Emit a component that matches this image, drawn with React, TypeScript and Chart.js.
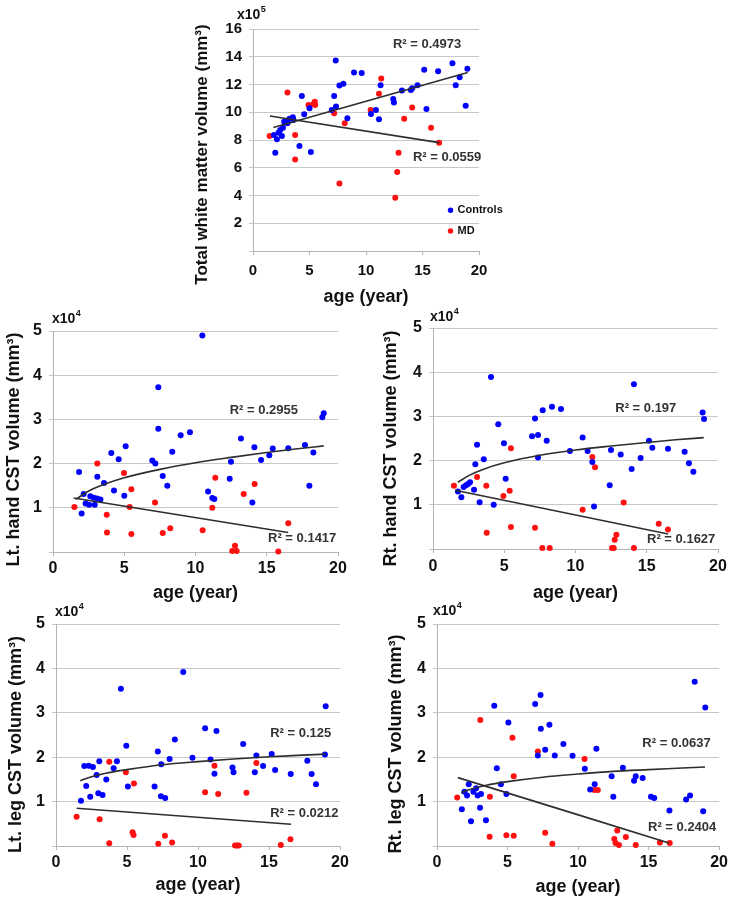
import React, { useEffect, useRef } from 'react';
import { Chart, registerables } from 'chart.js';

Chart.register(...registerables);

const FONT = '"Liberation Sans", Arial, Helvetica, sans-serif';
const BLUE = '#0000ff';
const RED = '#ff1010';
const LINE = '#2e2e2e';
const GRID = '#c8c8c8';
const AXIS = '#b4b4b4';
const TEXT = '#111111';
const R2_COLOR = '#333333';

// ---------- tick labels ----------
const AGE_TICKS = [0, 5, 10, 15, 20];
const WM_TICKS = [0, 2, 4, 6, 8, 10, 12, 14, 16];
const CST_TICKS = [0, 1, 2, 3, 4, 5];

// ---------- Total white matter (x10^5 mm3) ----------
const wmCtrlAge = [1.85, 1.97, 2.12, 2.26, 2.41, 2.56, 2.65, 2.76, 2.94, 3.05, 3.23, 3.53, 3.58, 4.11, 4.32, 4.53, 5.0, 5.12, 6.97, 7.18, 7.32, 7.35, 7.65, 8.0, 8.35, 8.94, 9.62, 10.44, 10.88, 11.15, 11.29, 12.41, 12.47, 13.18, 13.97, 14.09, 14.56, 15.15, 15.35, 16.38, 17.65, 17.94, 18.29, 18.82, 18.97];
const wmCtrlVol = [8.36, 7.08, 8.05, 8.53, 8.72, 8.29, 8.89, 9.32, 9.37, 9.2, 9.54, 9.64, 9.45, 7.57, 11.18, 9.86, 10.29, 7.13, 10.17, 11.18, 13.73, 10.41, 11.93, 12.05, 9.57, 12.87, 12.82, 9.88, 10.17, 9.49, 11.95, 10.96, 10.7, 11.57, 11.61, 11.73, 11.95, 13.06, 10.24, 12.96, 13.54, 11.95, 12.53, 10.46, 13.13];
const wmMdAge = [1.47, 3.05, 3.73, 3.73, 4.91, 5.35, 5.47, 5.5, 7.18, 7.65, 8.12, 10.41, 11.15, 11.35, 12.59, 12.76, 12.88, 13.38, 14.09, 15.76, 16.47];
const wmMdVol = [8.29, 11.42, 8.36, 6.6, 10.53, 10.6, 10.75, 10.53, 9.93, 4.87, 9.2, 10.17, 11.33, 12.43, 3.83, 5.69, 7.08, 9.54, 10.34, 8.89, 7.81];
const wmCtrlFitAge = [1.8, 19.0];
const wmCtrlFitVol = [8.9, 12.87];
const wmMdFitAge = [1.5, 16.47];
const wmMdFitVol = [9.73, 7.81];

// ---------- Lt. hand CST (x10^4 mm3) ----------
const lhCtrlAge = [1.83, 2.01, 2.15, 2.29, 2.53, 2.62, 2.86, 2.93, 3.09, 3.11, 3.33, 3.58, 4.09, 4.28, 4.61, 5.0, 5.1, 6.97, 7.18, 7.39, 7.39, 7.7, 8.02, 8.37, 8.96, 9.61, 10.48, 10.88, 11.18, 11.32, 12.4, 12.49, 13.19, 13.99, 14.13, 14.6, 15.18, 15.42, 16.51, 17.68, 17.99, 18.27, 18.9, 19.0];
const lhCtrlVol = [1.81, 0.87, 1.31, 1.1, 1.07, 1.26, 1.23, 1.07, 1.21, 1.7, 1.19, 1.56, 2.24, 1.39, 2.1, 1.27, 2.39, 2.07, 2.0, 3.73, 2.79, 1.72, 1.5, 2.27, 2.64, 2.71, 4.9, 1.37, 1.22, 1.2, 1.66, 2.04, 2.57, 1.12, 2.37, 2.08, 2.19, 2.34, 2.35, 2.42, 1.5, 2.25, 3.05, 3.14];
const lhMdAge = [1.5, 3.11, 3.77, 3.79, 4.98, 5.38, 5.5, 5.5, 7.16, 7.7, 8.23, 10.5, 11.18, 11.39, 12.58, 12.77, 12.89, 13.38, 14.15, 15.81, 16.51];
const lhMdVol = [1.02, 2.0, 0.84, 0.44, 1.79, 1.02, 1.42, 0.41, 1.12, 0.43, 0.54, 0.49, 1.0, 1.68, 0.02, 0.14, 0.02, 1.31, 1.54, 0.01, 0.65];
const lhCtrlFitAge = [1.6, 2.5, 3.5, 5, 7.5, 10, 12.5, 15, 17, 19];
const lhCtrlFitVol = [1.19, 1.38, 1.52, 1.68, 1.87, 2.02, 2.14, 2.25, 2.33, 2.4];
const lhMdFitAge = [1.45, 16.5];
const lhMdFitVol = [1.22, 0.44];

// ---------- Rt. hand CST (x10^4 mm3) ----------
const rhCtrlAge = [1.75, 1.99, 2.15, 2.32, 2.46, 2.6, 2.88, 2.97, 3.09, 3.27, 3.56, 4.07, 4.26, 4.58, 4.98, 5.1, 6.95, 7.16, 7.37, 7.37, 7.7, 7.98, 8.35, 8.98, 9.61, 10.5, 10.85, 11.18, 11.3, 12.4, 12.49, 13.17, 13.94, 14.1, 14.57, 15.16, 15.39, 16.49, 17.66, 17.96, 18.27, 18.92, 19.02];
const rhCtrlVol = [1.3, 1.17, 1.4, 1.44, 1.47, 1.51, 1.34, 1.92, 2.36, 1.06, 2.03, 3.89, 1.0, 2.82, 2.39, 1.59, 2.55, 2.95, 2.58, 2.07, 3.14, 2.45, 3.22, 3.17, 2.22, 2.52, 2.22, 1.97, 0.96, 1.44, 2.24, 2.14, 1.81, 3.73, 2.06, 2.45, 2.29, 2.27, 2.2, 1.94, 1.75, 3.09, 2.94];
const rhMdAge = [1.47, 3.09, 3.74, 3.77, 4.94, 5.38, 5.47, 5.47, 7.16, 7.67, 8.19, 10.5, 11.18, 11.37, 12.56, 12.68, 12.75, 12.87, 13.38, 14.1, 15.84, 16.49];
const rhMdVol = [1.43, 1.63, 1.43, 0.37, 1.2, 1.32, 2.28, 0.5, 0.48, 0.02, 0.02, 0.89, 2.08, 1.85, 0.02, 0.02, 0.21, 0.32, 1.05, 0.02, 0.57, 0.44];
const rhCtrlFitAge = [1.75, 2.5, 3.5, 5, 7.5, 10, 12.5, 15, 17, 19];
const rhCtrlFitVol = [1.51, 1.66, 1.8, 1.95, 2.12, 2.24, 2.33, 2.41, 2.47, 2.52];
const rhMdFitAge = [1.55, 16.5];
const rhMdFitVol = [1.33, 0.34];

// ---------- Lt. leg CST (x10^4 mm3) ----------
const llCtrlAge = [1.76, 1.99, 2.13, 2.3, 2.41, 2.6, 2.86, 2.98, 3.05, 3.28, 3.54, 4.06, 4.29, 4.57, 4.95, 5.06, 6.94, 7.17, 7.39, 7.41, 7.69, 8.0, 8.37, 8.96, 9.61, 10.5, 10.88, 11.16, 11.3, 12.43, 12.5, 13.18, 14.0, 14.11, 14.58, 15.19, 15.43, 16.53, 17.7, 18.0, 18.31, 18.94, 18.99];
const llCtrlVol = [1.02, 1.8, 1.35, 1.81, 1.11, 1.78, 1.6, 1.19, 1.91, 1.15, 1.5, 1.75, 1.91, 3.54, 2.26, 1.34, 1.34, 2.13, 1.12, 1.84, 1.08, 1.96, 2.4, 3.92, 1.99, 2.65, 1.95, 1.63, 2.59, 1.77, 1.66, 2.3, 1.66, 2.04, 1.8, 2.07, 1.71, 1.62, 1.92, 1.62, 1.39, 2.06, 3.15];
const llMdAge = [1.45, 3.07, 3.75, 3.75, 4.92, 5.39, 5.46, 5.49, 7.2, 7.67, 8.18, 10.5, 11.16, 11.42, 12.61, 12.75, 12.87, 13.41, 14.11, 15.83, 16.51];
const llMdVol = [0.66, 0.6, 1.9, 0.06, 1.66, 0.31, 0.25, 1.41, 0.05, 0.23, 0.08, 1.21, 1.81, 1.17, 0.01, 0.01, 0.01, 1.2, 1.87, 0.02, 0.15];
const llCtrlFitAge = [1.71, 2.5, 3.5, 5, 7.5, 10, 12.5, 15, 17, 19];
const llCtrlFitVol = [1.47, 1.56, 1.64, 1.72, 1.83, 1.9, 1.96, 2.01, 2.04, 2.07];
const llMdFitAge = [1.45, 16.55];
const llMdFitVol = [0.85, 0.49];

// ---------- Rt. leg CST (x10^4 mm3) ----------
const rlCtrlAge = [1.76, 1.95, 2.13, 2.25, 2.41, 2.58, 2.77, 2.88, 3.05, 3.12, 3.47, 4.06, 4.24, 4.53, 4.92, 5.06, 6.96, 7.15, 7.34, 7.36, 7.67, 7.97, 8.35, 8.96, 9.61, 10.48, 10.86, 11.18, 11.3, 12.38, 12.5, 13.18, 13.97, 14.09, 14.58, 15.17, 15.4, 16.48, 17.66, 17.94, 18.27, 18.87, 19.02];
const rlCtrlVol = [0.83, 1.22, 1.14, 1.39, 0.56, 1.22, 1.3, 1.14, 0.86, 1.17, 0.58, 3.16, 1.75, 1.39, 1.17, 2.78, 3.2, 2.04, 3.4, 2.64, 2.17, 2.73, 2.04, 2.3, 2.03, 1.74, 1.27, 1.39, 2.19, 1.57, 1.11, 1.76, 1.47, 1.57, 1.53, 1.11, 1.08, 0.8, 1.05, 1.14, 3.7, 0.78, 3.12];
const rlMdAge = [1.43, 3.07, 3.75, 3.73, 4.92, 5.35, 5.44, 5.44, 7.15, 7.67, 8.18, 10.46, 11.16, 11.4, 12.57, 12.66, 12.78, 12.9, 13.39, 14.09, 15.8, 16.5];
const rlMdVol = [1.09, 2.84, 1.11, 0.21, 0.24, 2.44, 1.57, 0.23, 2.13, 0.3, 0.05, 1.96, 1.26, 1.26, 0.16, 0.07, 0.35, 0.02, 0.2, 0.02, 0.08, 0.07];
const rlCtrlFitAge = [1.71, 2.5, 3.5, 5, 7.5, 10, 12.5, 15, 17, 19];
const rlCtrlFitVol = [1.2, 1.29, 1.37, 1.45, 1.55, 1.62, 1.68, 1.72, 1.75, 1.78];
const rlMdFitAge = [1.48, 16.44];
const rlMdFitVol = [1.54, 0.07];

// ---------- R² labels (anchored in data coordinates) ----------
const wmR2 = [
  { text: 'R² = 0.4973', x: 12.38, y: 14.86 },
  { text: 'R² = 0.0559', x: 14.15, y: 6.77 },
];
const lhR2 = [
  { text: 'R² = 0.2955', x: 12.4, y: 3.21 },
  { text: 'R² = 0.1417', x: 15.09, y: 0.3 },
];
const rhR2 = [
  { text: 'R² = 0.197', x: 12.79, y: 3.18 },
  { text: 'R² = 0.1627', x: 15.02, y: 0.21 },
];
const llR2 = [
  { text: 'R² = 0.125', x: 15.08, y: 2.54 },
  { text: 'R² = 0.0212', x: 15.08, y: 0.74 },
];
const rlR2 = [
  { text: 'R² = 0.0637', x: 14.56, y: 2.31 },
  { text: 'R² = 0.2404', x: 14.96, y: 0.42 },
];

const SERIES_NAMES = ['Controls', 'MD'];

interface Panel {
  key: string;
  cx: number; cy: number; cw: number; ch: number;
  area: { left: number; top: number; right: number; bottom: number };
  yMax: number;
  yTicks: number[];
  yTitle: string;
  yTitleX: number; yTitleY: number; yTitleSize: number;
  xTitleY: number;
  tickSize: number;
  xTickPad: number;
  exp: string; expDx: number; expDy: number;
  ctrlX: number[]; ctrlY: number[];
  mdX: number[]; mdY: number[];
  ctrlFitX: number[]; ctrlFitY: number[];
  mdFitX: number[]; mdFitY: number[];
  r2: { text: string; x: number; y: number }[];
  legend?: { x: number; y: number; dy: number };
}

const PANELS: Panel[] = [
  {
    key: 'wm', cx: 180, cy: 0, cw: 345, ch: 310,
    area: { left: 253, top: 29, right: 479, bottom: 251 },
    yMax: 16, yTicks: WM_TICKS,
    yTitle: 'Total white matter volume (mm³)', yTitleX: 202, yTitleY: 154.5, yTitleSize: 17,
    xTitleY: 297, tickSize: 15, xTickPad: 7,
    exp: '5', expDx: -16, expDy: -14,
    ctrlX: wmCtrlAge, ctrlY: wmCtrlVol, mdX: wmMdAge, mdY: wmMdVol,
    ctrlFitX: wmCtrlFitAge, ctrlFitY: wmCtrlFitVol, mdFitX: wmMdFitAge, mdFitY: wmMdFitVol,
    r2: wmR2,
    legend: { x: 17.48, y: 2.94, dy: 1.49 },
  },
  {
    key: 'lh', cx: 0, cy: 305, cw: 360, ch: 300,
    area: { left: 53, top: 331, right: 338, bottom: 552 },
    yMax: 5, yTicks: CST_TICKS,
    yTitle: 'Lt. hand CST volume (mm³)', yTitleX: 14.5, yTitleY: 449.5, yTitleSize: 18,
    xTitleY: 593, tickSize: 16, xTickPad: 3,
    exp: '4', expDx: -1, expDy: -12,
    ctrlX: lhCtrlAge, ctrlY: lhCtrlVol, mdX: lhMdAge, mdY: lhMdVol,
    ctrlFitX: lhCtrlFitAge, ctrlFitY: lhCtrlFitVol, mdFitX: lhMdFitAge, mdFitY: lhMdFitVol,
    r2: lhR2,
  },
  {
    key: 'rh', cx: 365, cy: 305, cw: 366, ch: 300,
    area: { left: 433, top: 328, right: 718, bottom: 549 },
    yMax: 5, yTicks: CST_TICKS,
    yTitle: 'Rt. hand CST volume (mm³)', yTitleX: 391, yTitleY: 448.5, yTitleSize: 18,
    xTitleY: 593, tickSize: 16, xTickPad: 4,
    exp: '4', expDx: -3, expDy: -11,
    ctrlX: rhCtrlAge, ctrlY: rhCtrlVol, mdX: rhMdAge, mdY: rhMdVol,
    ctrlFitX: rhCtrlFitAge, ctrlFitY: rhCtrlFitVol, mdFitX: rhMdFitAge, mdFitY: rhMdFitVol,
    r2: rhR2,
  },
  {
    key: 'll', cx: 0, cy: 600, cw: 360, ch: 300,
    area: { left: 56, top: 624, right: 340, bottom: 846 },
    yMax: 5, yTicks: CST_TICKS,
    yTitle: 'Lt. leg CST volume (mm³)', yTitleX: 16, yTitleY: 744.5, yTitleSize: 18,
    xTitleY: 885, tickSize: 16, xTickPad: 3,
    exp: '4', expDx: -1, expDy: -12,
    ctrlX: llCtrlAge, ctrlY: llCtrlVol, mdX: llMdAge, mdY: llMdVol,
    ctrlFitX: llCtrlFitAge, ctrlFitY: llCtrlFitVol, mdFitX: llMdFitAge, mdFitY: llMdFitVol,
    r2: llR2,
  },
  {
    key: 'rl', cx: 365, cy: 600, cw: 366, ch: 300,
    area: { left: 437, top: 624, right: 722, bottom: 846 },
    yMax: 5, yTicks: CST_TICKS,
    yTitle: 'Rt. leg CST volume (mm³)', yTitleX: 396, yTitleY: 744, yTitleSize: 18,
    xTitleY: 887, tickSize: 16, xTickPad: 3,
    exp: '4', expDx: -4, expDy: -13,
    ctrlX: rlCtrlAge, ctrlY: rlCtrlVol, mdX: rlMdAge, mdY: rlMdVol,
    ctrlFitX: rlCtrlFitAge, ctrlFitY: rlCtrlFitVol, mdFitX: rlMdFitAge, mdFitY: rlMdFitVol,
    r2: rlR2,
  },
];

const pts = (xs: number[], ys: number[]) => xs.map((x, i) => ({ x, y: ys[i] }));

function buildChart(canvas: HTMLCanvasElement, p: Panel): Chart {
  const xTitleSize = 18;
  const xTitleLH = xTitleSize * 1.2;
  const padTop = p.area.top - p.cy;
  const padRight = p.cx + p.cw - p.area.right;
  const padBottom = p.cy + p.ch - p.xTitleY - xTitleLH / 2;
  const yWidth = p.area.left - p.cx;
  const xHeight = p.cy + p.ch - padBottom - p.area.bottom;

  const decor = {
    id: 'decor_' + p.key,
    afterDraw(chart: any) {
      const { ctx, chartArea, scales } = chart;
      const xs = scales.x;
      const ys = scales.y;
      // rotated y-axis title
      ctx.save();
      ctx.translate(p.yTitleX - p.cx, p.yTitleY - p.cy);
      ctx.rotate(-Math.PI / 2);
      ctx.font = `bold ${p.yTitleSize}px ${FONT}`;
      ctx.fillStyle = TEXT;
      ctx.textAlign = 'center';
      ctx.textBaseline = 'middle';
      ctx.fillText(p.yTitle, 0, 0);
      ctx.restore();

      // exponent label  x10^n
      ctx.save();
      ctx.fillStyle = TEXT;
      ctx.textBaseline = 'middle';
      ctx.textAlign = 'left';
      ctx.font = `bold 14px ${FONT}`;
      const ex = chartArea.left + p.expDx;
      const ey = chartArea.top + p.expDy;
      ctx.fillText('x10', ex, ey);
      const w = ctx.measureText('x10').width;
      ctx.font = `bold 9px ${FONT}`;
      ctx.fillText(p.exp, ex + w + 0.5, ey - 5);
      ctx.restore();

      // R² labels
      ctx.save();
      ctx.fillStyle = R2_COLOR;
      ctx.font = `bold 13px ${FONT}`;
      ctx.textAlign = 'left';
      ctx.textBaseline = 'middle';
      p.r2.forEach((l) => {
        ctx.fillText(l.text, xs.getPixelForValue(l.x), ys.getPixelForValue(l.y));
      });
      ctx.restore();

      // legend
      if (p.legend) {
        const lg = p.legend;
        ctx.save();
        ctx.font = `bold 11px ${FONT}`;
        ctx.textAlign = 'left';
        ctx.textBaseline = 'middle';
        [BLUE, RED].forEach((c, i) => {
          const px = xs.getPixelForValue(lg.x);
          const py = ys.getPixelForValue(lg.y - i * lg.dy);
          ctx.fillStyle = c;
          ctx.beginPath();
          ctx.arc(px, py, 2.7, 0, Math.PI * 2);
          ctx.fill();
          ctx.fillStyle = TEXT;
          ctx.fillText(SERIES_NAMES[i], px + 7, py);
        });
        ctx.restore();
      }
    },
  };

  const tickFont = { family: FONT, size: p.tickSize, weight: 'bold' as const };

  return new Chart(canvas, {
    type: 'scatter',
    data: {
      datasets: [
        {
          label: 'Controls fit',
          data: pts(p.ctrlFitX, p.ctrlFitY),
          showLine: true,
          borderColor: LINE,
          borderWidth: 1.6,
          pointRadius: 0,
          cubicInterpolationMode: 'monotone',
          clip: false,
        } as any,
        {
          label: 'MD fit',
          data: pts(p.mdFitX, p.mdFitY),
          showLine: true,
          borderColor: LINE,
          borderWidth: 1.6,
          pointRadius: 0,
          cubicInterpolationMode: 'monotone',
          clip: false,
        } as any,
        {
          label: SERIES_NAMES[0],
          data: pts(p.ctrlX, p.ctrlY),
          backgroundColor: BLUE,
          borderColor: BLUE,
          pointRadius: 3,
          pointBorderWidth: 0,
          clip: false,
        } as any,
        {
          label: SERIES_NAMES[1],
          data: pts(p.mdX, p.mdY),
          backgroundColor: RED,
          borderColor: RED,
          pointRadius: 3,
          pointBorderWidth: 0,
          clip: false,
        } as any,
      ],
    },
    options: {
      responsive: false,
      animation: false,
      devicePixelRatio: 1,
      events: [],
      layout: { padding: { left: 0, top: padTop, right: padRight, bottom: padBottom } },
      plugins: { legend: { display: false }, tooltip: { enabled: false } },
      scales: {
        x: {
          type: 'linear',
          min: 0,
          max: 20,
          afterBuildTicks: (s: any) => {
            s.ticks = AGE_TICKS.map((v) => ({ value: v }));
          },
          afterFit: (s: any) => {
            s.height = xHeight;
          },
          grid: { drawOnChartArea: false, drawTicks: true, tickLength: 4, color: AXIS },
          border: { color: AXIS, width: 1 },
          ticks: { font: tickFont, color: TEXT, padding: p.xTickPad, maxRotation: 0, autoSkip: false },
          title: {
            display: true,
            text: 'age (year)',
            font: { family: FONT, size: xTitleSize, weight: 'bold' },
            color: TEXT,
            padding: 0,
          },
        },
        y: {
          type: 'linear',
          min: 0,
          max: p.yMax,
          afterBuildTicks: (s: any) => {
            s.ticks = p.yTicks.map((v) => ({ value: v }));
          },
          afterFit: (s: any) => {
            s.width = yWidth;
          },
          grid: { color: GRID, drawTicks: true, tickLength: 4, lineWidth: 1 },
          border: { color: AXIS, width: 1 },
          ticks: {
            font: tickFont,
            color: TEXT,
            padding: 7,
            autoSkip: false,
            callback: (v: any) => (Number(v) === 0 ? '' : String(v)),
          },
        },
      },
    } as any,
    plugins: [decor],
  });
}

function PanelChart({ p }: { p: Panel }) {
  const ref = useRef<HTMLCanvasElement | null>(null);
  useEffect(() => {
    if (!ref.current) return;
    const chart = buildChart(ref.current, p);
    return () => chart.destroy();
  }, [p]);
  return (
    <canvas
      ref={ref}
      width={p.cw}
      height={p.ch}
      style={{ position: 'absolute', left: p.cx, top: p.cy, width: p.cw, height: p.ch }}
    />
  );
}

export default function App() {
  return (
    <div
      style={{
        position: 'absolute',
        left: 0,
        top: 0,
        width: 731,
        height: 900,
        background: '#ffffff',
        overflow: 'hidden',
      }}
    >
      {PANELS.map((p) => (
        <PanelChart key={p.key} p={p} />
      ))}
    </div>
  );
}
